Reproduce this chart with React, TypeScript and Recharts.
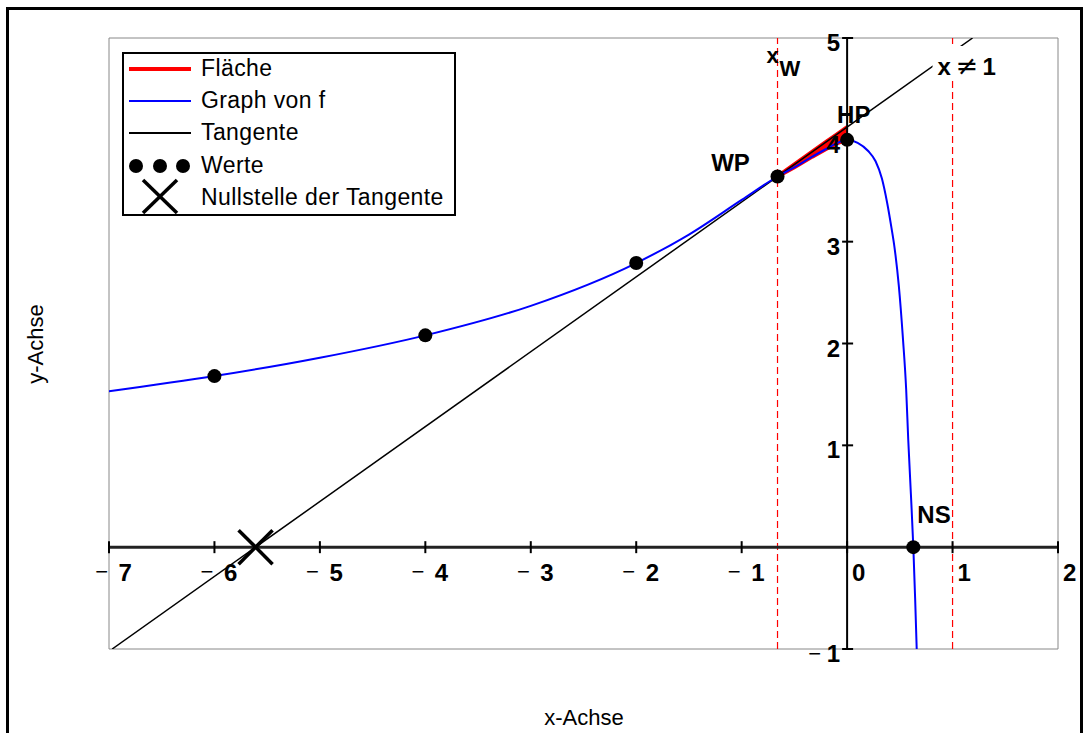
import React from 'react';
import {
  ComposedChart,
  Line,
  Area,
  Scatter,
  XAxis,
  YAxis,
  CartesianGrid,
  ReferenceLine,
  ReferenceDot,
} from 'recharts';

// Graph von f
const curveX = [-7, -6, -5, -4, -3, -2, -1.5, -1, -0.66, -0.5, -0.33, -0.2, -0.1, 0, 0.1, 0.2, 0.27, 0.33, 0.38, 0.42, 0.45, 0.49, 0.53, 0.56, 0.58, 0.605, 0.628, 0.645, 0.66];
const curveY = [1.53, 1.68, 1.86, 2.08, 2.37, 2.79, 3.07, 3.41, 3.64, 3.73, 3.835, 3.91, 3.965, 4.0, 3.97, 3.89, 3.79, 3.62, 3.38, 3.14, 2.94, 2.57, 2.04, 1.55, 1.05, 0.52, 0, -0.5, -1.0];

// Tangente im Wendepunkt
const tangentX = [-6.97, 1.19];
const tangentY = [-1, 5];

// Fläche zwischen Graph und Tangente
const areaX = [-0.66, -0.5, -0.33, -0.2, -0.1, 0];
const areaLow = [3.64, 3.73, 3.835, 3.91, 3.965, 4.0];
const areaHigh = [3.64, 3.758, 3.883, 3.98, 4.052, 4.125];

// Werte (Punkte)
const werteX = [-6, -4, -2, -0.66, 0, 0.628];
const werteY = [1.68, 2.08, 2.79, 3.64, 4.0, 0];

// Nullstelle der Tangente
const nullX = [-5.61];
const nullY = [0];

const xW = -0.66;
const asymptoteX = 1;

const xTicks = [-7, -6, -5, -4, -3, -2, -1, 0, 1, 2];
const yTicks = [-1, 0, 1, 2, 3, 4, 5];
const yLabelTicks = [-1, 1, 2, 3, 4, 5];

const FONT = '"Liberation Sans", Arial, Helvetica, sans-serif';

const curveData = curveX.map((x, i) => ({ x, y: curveY[i] }));
const tangentData = tangentX.map((x, i) => ({ x, y: tangentY[i] }));
const areaData = areaX.map((x, i) => ({ x, range: [areaLow[i], areaHigh[i]] }));
const werteData = werteX.map((x, i) => ({ x, y: werteY[i] }));
const nullData = nullX.map((x, i) => ({ x, y: nullY[i] }));

const XTick = (t: number) => (p: any) => {
  const { cx, cy } = p;
  return (
    <g fontFamily={FONT} fill="#000">
      <line x1={cx} x2={cx} y1={cy - 6} y2={cy + 6} stroke="#000" strokeWidth={2} />
      {t < 0 && (
        <text x={cx - 1} y={cy + 32} textAnchor="end" fontSize={22}>
          −
        </text>
      )}
      <text x={t < 0 ? cx + 9.5 : cx + 5} y={cy + 34} fontSize={24} fontWeight="bold">
        {Math.abs(t)}
      </text>
    </g>
  );
};

const YTick = (t: number) => (p: any) => {
  const { cx, cy } = p;
  return (
    <g fontFamily={FONT} fill="#000">
      <line x1={cx - 5} x2={cx + 6} y1={cy} y2={cy} stroke="#000" strokeWidth={2} />
      {t < 0 && (
        <text x={cx - 26} y={cy + 12} textAnchor="end" fontSize={22}>
          −
        </text>
      )}
      <text x={cx - 7} y={cy + 13} textAnchor="end" fontSize={24} fontWeight="bold">
        {Math.abs(t)}
      </text>
    </g>
  );
};

const Legendbox = () => (
  <svg width={334} height={164} style={{ position: 'absolute', left: 122, top: 52 }}>
    <rect x={1} y={1} width={332} height={162} fill="#fff" stroke="#000" strokeWidth={2} />
    <line x1={7} x2={69} y1={17} y2={17} stroke="#ff0000" strokeWidth={4} />
    <line x1={7} x2={69} y1={49} y2={49} stroke="#0000ff" strokeWidth={2} />
    <line x1={7} x2={69} y1={81} y2={81} stroke="#000" strokeWidth={2} />
    <circle cx={14} cy={114} r={7} fill="#000" />
    <circle cx={38} cy={114} r={7} fill="#000" />
    <circle cx={61} cy={114} r={7} fill="#000" />
    <line x1={21} x2={55} y1={128} y2={161} stroke="#000" strokeWidth={3.5} />
    <line x1={21} x2={55} y1={161} y2={128} stroke="#000" strokeWidth={3.5} />
    <g fontFamily={FONT} fontSize={23} fill="#000" letterSpacing={0.4}>
      <text x={79} y={24}>Fläche</text>
      <text x={79} y={56}>Graph von f</text>
      <text x={79} y={88}>Tangente</text>
      <text x={79} y={121}>Werte</text>
      <text x={79} y={153}>Nullstelle der Tangente</text>
    </g>
  </svg>
);

export default function App() {
  return (
    <div style={{ position: 'absolute', left: 0, top: 0, width: 1088, height: 733, background: '#fff', overflow: 'hidden', fontFamily: FONT }}>
      <div style={{ position: 'absolute', left: 6, top: 7, width: 1071, height: 740, border: '3px solid #000' }} />
      <div style={{ position: 'absolute', left: 0, top: 0 }}>
        <ComposedChart width={1088} height={733} margin={{ top: 38, right: 30, bottom: 84, left: 109 }}>
          <CartesianGrid stroke="#888" strokeWidth={1} />
          <XAxis
            type="number"
            dataKey="x"
            domain={[-7, 2]}
            ticks={xTicks}
            allowDataOverflow
            height={0}
            axisLine={false}
            tickLine={false}
            tick={false}
          />
          <YAxis
            type="number"
            domain={[-1, 5]}
            ticks={yTicks}
            allowDataOverflow
            width={0}
            axisLine={false}
            tickLine={false}
            tick={false}
          />
          <ReferenceLine x={xW} stroke="#ff0000" strokeDasharray="7 4" strokeWidth={1.2} />
          <ReferenceLine x={asymptoteX} stroke="#ff0000" strokeDasharray="7 4" strokeWidth={1.2} />
          <ReferenceLine y={0} stroke="#222" strokeWidth={3} />
          <ReferenceLine x={0} stroke="#000" strokeWidth={2} />
          <Area
            data={areaData}
            dataKey="range"
            type="linear"
            fill="#ff0000"
            fillOpacity={1}
            stroke="#ff0000"
            strokeWidth={4}
            isAnimationActive={false}
          />
          <Line
            data={tangentData}
            dataKey="y"
            type="linear"
            stroke="#000"
            strokeWidth={1.5}
            dot={false}
            activeDot={false}
            isAnimationActive={false}
          />
          <Line
            data={curveData}
            dataKey="y"
            type="monotone"
            stroke="#0000ff"
            strokeWidth={2}
            dot={false}
            activeDot={false}
            isAnimationActive={false}
          />
          <Scatter
            data={werteData}
            dataKey="y"
            isAnimationActive={false}
            shape={(p: any) => <circle cx={p.cx} cy={p.cy} r={7} fill="#000" />}
          />
          <Scatter
            data={nullData}
            dataKey="y"
            isAnimationActive={false}
            shape={(p: any) => (
              <g stroke="#000" strokeWidth={3.5}>
                <line x1={p.cx - 17} x2={p.cx + 17} y1={p.cy - 17} y2={p.cy + 17} />
                <line x1={p.cx - 17} x2={p.cx + 17} y1={p.cy + 17} y2={p.cy - 17} />
              </g>
            )}
          />
          {xTicks.map((t) => (
            <ReferenceDot key={'x' + t} x={t} y={0} r={0} ifOverflow="visible" shape={XTick(t)} />
          ))}
          {yLabelTicks.map((t) => (
            <ReferenceDot key={'y' + t} x={0} y={t} r={0} ifOverflow="visible" shape={YTick(t)} />
          ))}
          <ReferenceDot
            x={werteX[3]}
            y={werteY[3]}
            r={0}
            ifOverflow="visible"
            shape={(p: any) => (
              <text x={p.cx - 47} y={p.cy - 5} textAnchor="middle" fontFamily={FONT} fontSize={24} fontWeight="bold">
                WP
              </text>
            )}
          />
          <ReferenceDot
            x={werteX[4]}
            y={werteY[4]}
            r={0}
            ifOverflow="visible"
            shape={(p: any) => (
              <text x={p.cx - 10} y={p.cy - 17} fontFamily={FONT} fontSize={24} fontWeight="bold">
                HP
              </text>
            )}
          />
          <ReferenceDot
            x={werteX[5]}
            y={werteY[5]}
            r={0}
            ifOverflow="visible"
            shape={(p: any) => (
              <text x={p.cx + 4} y={p.cy - 24} fontFamily={FONT} fontSize={24} fontWeight="bold">
                NS
              </text>
            )}
          />
          <ReferenceDot
            x={xW}
            y={5}
            r={0}
            ifOverflow="visible"
            shape={(p: any) => (
              <g fontFamily={FONT} fontWeight="bold" fill="#000">
                <text x={p.cx - 11} y={p.cy + 25} fontSize={22}>x</text>
                <text x={p.cx + 2} y={p.cy + 38} fontSize={22}>W</text>
              </g>
            )}
          />
          <ReferenceDot
            x={asymptoteX}
            y={5}
            r={0}
            ifOverflow="visible"
            shape={(p: any) => (
              <g fontFamily={FONT} fill="#000">
                <rect x={p.cx - 20} y={p.cy + 8} width={72} height={32} fill="#fff" />
                <text x={p.cx - 15} y={p.cy + 37} fontSize={24} fontWeight="bold">x</text>
                <text x={p.cx + 3} y={p.cy + 37} fontSize={27} fontFamily="DejaVu Sans">≠</text>
                <text x={p.cx + 30} y={p.cy + 37} fontSize={24} fontWeight="bold">1</text>
              </g>
            )}
          />
        </ComposedChart>
      </div>
      <Legendbox />
      <div style={{ position: 'absolute', left: 584, top: 731, transform: 'translate(-50%, -100%)', fontSize: 22, whiteSpace: 'nowrap' }}>
        x-Achse
      </div>
      <div style={{ position: 'absolute', left: 36, top: 344, transform: 'translate(-50%, -50%) rotate(-90deg)', fontSize: 22, whiteSpace: 'nowrap' }}>
        y-Achse
      </div>
    </div>
  );
}
